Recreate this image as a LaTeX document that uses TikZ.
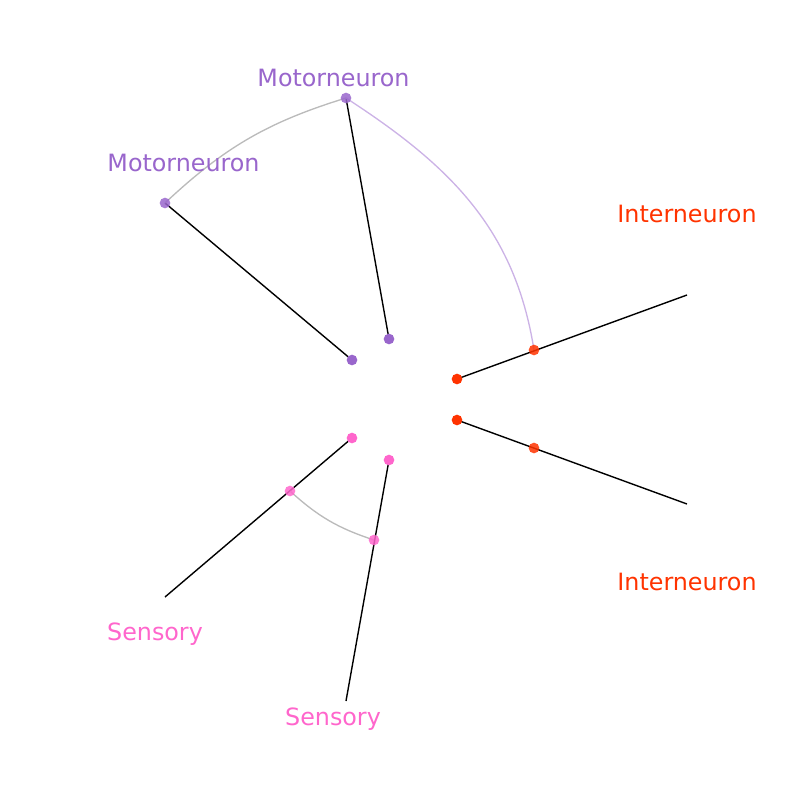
\documentclass[tikz,border=0pt]{standalone}
\usepackage{fontspec}
\setmainfont{DejaVu Sans}
\definecolor{motor}{HTML}{9966CC}
\definecolor{inter}{HTML}{FF3300}
\definecolor{sens}{HTML}{FF66CC}
\definecolor{edgegrey}{HTML}{BBBBBB}
\definecolor{edgepurple}{HTML}{CCB3E6}
\begin{document}
\begin{tikzpicture}[x=0.75pt,y=-0.75pt,
  axisline/.style={draw=black,line width=1.05pt},
  edgeline/.style={line width=1pt},
  dot/.style={circle,inner sep=0pt,minimum size=8pt,fill=#1},
  lightdot/.style={circle,inner sep=0pt,minimum size=8pt,fill=#1,fill opacity=0.85},
  lab/.style={text=#1,font=\fontsize{17.85pt}{20pt}\selectfont,anchor=base,inner sep=0pt}]
\useasboundingbox (0,0) rectangle (800,800);
% axis coordinates
\coordinate (ma1s) at (352,360); \coordinate (ma1e) at (165,203);
\coordinate (ma2s) at (389,339); \coordinate (ma2e) at (346,98);
\coordinate (ia1s) at (457,379); \coordinate (ia1e) at (687,295);
\coordinate (ia2s) at (457,420); \coordinate (ia2e) at (687,504);
\coordinate (sa1s) at (352,438); \coordinate (sa1e) at (165,597);
\coordinate (sa2s) at (389,460); \coordinate (sa2e) at (346,701);
% axes
\draw[axisline] (ma1s) -- (ma1e);
\draw[axisline] (ma2s) -- (ma2e);
\draw[axisline] (ia1s) -- (ia1e);
\draw[axisline] (ia2s) -- (ia2e);
\draw[axisline] (sa1s) -- (sa1e);
\draw[axisline] (sa2s) -- (sa2e);
% node positions
\coordinate (pm1) at (165,203);
\coordinate (pm2) at (346,98);
\coordinate (pi1) at (534,350);
\coordinate (ps1) at (290,491);
\coordinate (ps2) at (374,540);
% edges
\draw[edgeline,draw=edgegrey] (pm1) to[bend left=13] (pm2);
\draw[edgeline,draw=edgepurple] (pm2) to[out=-33,in=99] (pi1);
\draw[edgeline,draw=edgegrey] (ps1) to[bend right=12] (ps2);
% dots
\node[dot=motor] (m1) at (ma1s) {};
\node[lightdot=motor] (m2) at (pm1) {};
\node[dot=motor] (m3) at (ma2s) {};
\node[lightdot=motor] (m4) at (pm2) {};
\node[dot=inter] (i1) at (ia1s) {};
\node[lightdot=inter] (i2) at (pi1) {};
\node[dot=inter] (i3) at (ia2s) {};
\node[lightdot=inter] (i4) at (534,448) {};
\node[dot=sens] (s1) at (sa1s) {};
\node[lightdot=sens] (s2) at (ps1) {};
\node[dot=sens] (s3) at (sa2s) {};
\node[lightdot=sens] (s4) at (ps2) {};
% labels
\node[lab=motor] (lm1) at (333.5,86.7) {Motorneuron};
\node[lab=motor] (lm2) at (183.5,171.7) {Motorneuron};
\node[lab=inter] (li1) at (687,222.3) {Interneuron};
\node[lab=inter] (li2) at (687,590) {Interneuron};
\node[lab=sens] (ls1) at (155,640) {Sensory};
\node[lab=sens] (ls2) at (333,725) {Sensory};
\end{tikzpicture}
\end{document}
